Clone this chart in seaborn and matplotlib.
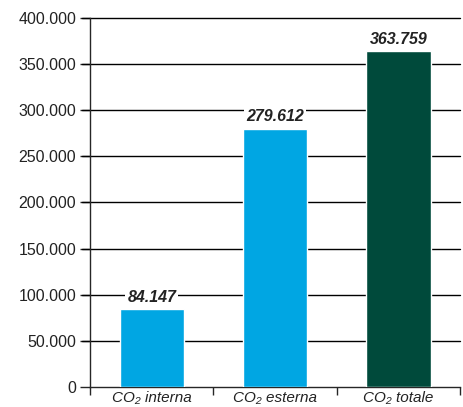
import numpy as np
import matplotlib
matplotlib.use('Agg')
import matplotlib.pyplot as plt
import seaborn as sns

sns.set_style('ticks')
plt.rcParams['font.family'] = ['Liberation Sans', 'DejaVu Sans']

categories = ['CO₂ interna', 'CO₂ esterna', 'CO₂ totale']
values = [84147, 279612, 363759]
value_labels = ['84.147', '279.612', '363.759']
colors = ['#00A6E3', '#00A6E3', '#004A3B']
yticks = [0, 50000, 100000, 150000, 200000, 250000, 300000, 350000, 400000]
ytick_labels = ['0', '50.000', '100.000', '150.000', '200.000', '250.000',
                '300.000', '350.000', '400.000']

fig, ax = plt.subplots(figsize=(4.64, 4.07), dpi=100)
fig.subplots_adjust(left=0.194, right=0.992, top=0.956, bottom=0.049)

sns.barplot(x=categories, y=values, hue=categories, palette=colors,
            width=0.52, legend=False, ax=ax, zorder=3, saturation=1)

ax.set_ylim(0, 400000)
ax.set_xlim(-0.5, 2.5)
ax.set_yticks(yticks)
ax.set_yticklabels(ytick_labels, fontsize=11.5, color='#222222')
for y in yticks[1:]:
    ax.axhline(y, color='black', lw=1.0, zorder=1, xmin=-0.022, clip_on=False)

ax.tick_params(axis='y', length=7, width=1.0, pad=3)
ax.set_xticks([0, 1, 2])
ax.set_xticklabels(categories, fontsize=11, style='italic', color='#222222')
ax.tick_params(axis='x', length=0, pad=3)
ax.set_xticks([-0.5, 0.5, 1.5, 2.5], minor=True)
ax.tick_params(axis='x', which='minor', length=6, width=1.0, pad=0)

for i, (v, lab) in enumerate(zip(values, value_labels)):
    ax.text(i, v + 5000, lab, ha='center', va='bottom', fontsize=11.5,
            fontweight='bold', style='italic', color='#222222', zorder=4,
            bbox=dict(facecolor='white', edgecolor='none', pad=1.5))

sns.despine(ax=ax, top=True, right=True)
ax.spines['left'].set_linewidth(1.0)
ax.spines['bottom'].set_linewidth(1.0)
ax.set_xlabel('')
ax.set_ylabel('')

plt.savefig('out.png', dpi=100)
